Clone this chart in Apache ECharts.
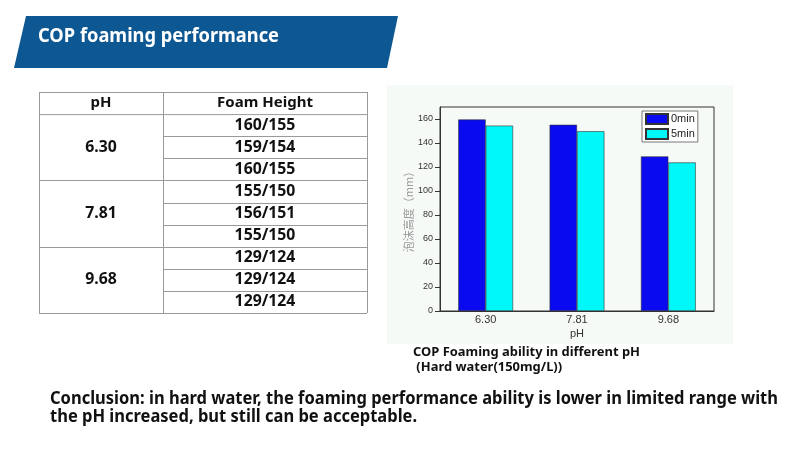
<!DOCTYPE html>
<html><head><meta charset="utf-8">
<script src="https://cdn.jsdelivr.net/npm/echarts@6/dist/echarts.min.js"></script>
<style>html,body{margin:0;padding:0;background:#fff}#c{width:800px;height:452px}</style>
</head><body><div id="c"></div>
<script>
// ---- data ----
const titleText = 'COP foaming performance';
const tableHeaders = ['pH', 'Foam Height'];
const phValues = ['6.30', '7.81', '9.68'];
const foamHeights = [
  ['160/155', '159/154', '160/155'],
  ['155/150', '156/151', '155/150'],
  ['129/124', '129/124', '129/124']
];
const categories = ['6.30', '7.81', '9.68'];
const seriesNames = ['0min', '5min'];
const height0min = [159.6, 155.2, 128.8];
const height5min = [154.5, 149.8, 123.8];
const yTicks = [0, 20, 40, 60, 80, 100, 120, 140, 160];
const yAxisName = '泡沫高度（mm）';
const xAxisName = 'pH';
const captionLines = ['COP Foaming ability in different pH', ' (Hard water(150mg/L))'];
const conclusionLines = [
  'Conclusion: in hard water, the foaming performance ability is lower in limited range with',
  'the pH increased, but still can be acceptable.'
];

// ---- helpers ----
const FONT = '"Noto Sans", "Open Sans", sans-serif';
const mctx = document.createElement('canvas').getContext('2d');
function measure(text, size, weight) {
  mctx.font = (weight || 'bold') + ' ' + size + 'px ' + FONT;
  return mctx.measureText(text).width;
}
function txt(text, x, y, size, opts) {
  opts = opts || {};
  return {
    type: 'text', x: x, y: y, scaleX: opts.scaleX || 1, z: 10,
    style: {
      text: text, x: 0, y: 0,
      font: (opts.weight || 'bold') + ' ' + size + 'px ' + FONT,
      fill: opts.fill || '#111',
      align: opts.align || 'left', verticalAlign: 'middle'
    }
  };
}
function line(x1, y1, x2, y2, color) {
  return { type: 'line', z: 5, shape: { x1: x1, y1: y1, x2: x2, y2: y2 },
    style: { stroke: color || '#9a9a9a', lineWidth: 1 } };
}

const graphics = [];
// chart panel background
graphics.push({ type: 'rect', z: -10, shape: { x: 387, y: 85, width: 346, height: 259 },
  style: { fill: '#f6faf7' } });
// title banner
graphics.push({ type: 'polygon', z: 1, shape: { points: [[26, 16], [398, 16], [387, 68], [14, 68]] },
  style: { fill: '#0d5892' } });
{
  const s = 19, w = measure(titleText, s);
  graphics.push(txt(titleText, 38, 37, s, { fill: '#ffffff', scaleX: 241 / w }));
}

// table
const colX = [39, 163, 367];
const tTop = 92, rowH = 22.1;
const nRows = 1 + foamHeights.reduce((a, g) => a + g.length, 0);
const tBottom = tTop + nRows * rowH;
colX.forEach(x => graphics.push(line(x + 0.5, tTop, x + 0.5, tBottom)));
graphics.push(line(colX[0], tTop + 0.5, colX[2], tTop + 0.5));
graphics.push(line(colX[0], tTop + rowH + 0.5, colX[2], tTop + rowH + 0.5));
graphics.push(txt(tableHeaders[0], (colX[0] + colX[1]) / 2, tTop + rowH / 2, 15, { align: 'center' }));
graphics.push(txt(tableHeaders[1], (colX[1] + colX[2]) / 2, tTop + rowH / 2, 15, { align: 'center' }));
let r = 1;
foamHeights.forEach((group, gi) => {
  const gTop = tTop + r * rowH;
  group.forEach((v, i) => {
    const yTop = tTop + (r + i) * rowH;
    graphics.push(txt(v, (colX[1] + colX[2]) / 2, yTop + rowH / 2, 15.8, { align: 'center' }));
    const yb = Math.round(yTop + rowH) + 0.5;
    if (i < group.length - 1) graphics.push(line(colX[1], yb, colX[2], yb));
    else graphics.push(line(colX[0], yb, colX[2], yb));
  });
  graphics.push(txt(phValues[gi], (colX[0] + colX[1]) / 2, gTop + group.length * rowH / 2, 15.8, { align: 'center' }));
  r += group.length;
});

// caption
{
  const s = 13, sc = 227 / measure(captionLines[0], s);
  graphics.push(txt(captionLines[0], 413, 352, s, { scaleX: sc }));
  graphics.push(txt(captionLines[1], 413, 367, s, { scaleX: sc }));
}
// conclusion
{
  const s = 18, sc = 728 / measure(conclusionLines[0], s);
  graphics.push(txt(conclusionLines[0], 50, 399, s, { scaleX: sc }));
  graphics.push(txt(conclusionLines[1], 50, 417, s, { scaleX: sc }));
}

const chart = echarts.init(document.getElementById('c'), null, { renderer: 'canvas' });
chart.setOption({
  animation: false,
  backgroundColor: '#ffffff',
  graphic: { elements: graphics },
  grid: { left: 440, top: 107, width: 274, height: 204, show: true,
    borderColor: '#333', borderWidth: 1, backgroundColor: 'transparent', containLabel: false },
  legend: {
    data: seriesNames, orient: 'vertical', left: 642, top: 111,
    backgroundColor: '#ffffff', borderColor: '#777', borderWidth: 1, borderRadius: 0,
    padding: [2, 3, 2, 3], itemWidth: 22, itemHeight: 10, itemGap: 3, icon: 'rect',
    textStyle: { fontSize: 11, color: '#222', fontFamily: 'Arial, "Liberation Sans", sans-serif', padding: [0, 0, 0, -2] }
  },
  xAxis: {
    type: 'category', data: categories,
    name: xAxisName, nameLocation: 'middle', nameGap: 17,
    nameTextStyle: { fontSize: 11, color: '#333', fontFamily: 'Arial, "Liberation Sans", sans-serif' },
    axisLine: { lineStyle: { color: '#333' } },
    axisTick: { show: false },
    axisLabel: { fontSize: 11, color: '#333', margin: 3, fontFamily: 'Arial, "Liberation Sans", sans-serif' }
  },
  yAxis: {
    type: 'value', min: 0, max: 170, interval: 20,
    name: yAxisName, nameLocation: 'middle', nameGap: 21, nameRotate: 90,
    nameTextStyle: { fontSize: 11, color: '#9a9a9a', fontFamily: '"Noto Sans CJK SC", sans-serif' },
    axisLine: { show: true, lineStyle: { color: '#333' } },
    axisTick: { show: true, inside: false, length: 5, customValues: yTicks, lineStyle: { color: '#333' } },
    axisLabel: { fontSize: 9, color: '#333', margin: 7, customValues: yTicks,
      fontFamily: 'Arial, "Liberation Sans", sans-serif' },
    splitLine: { show: false }
  },
  series: [
    { name: seriesNames[0], type: 'bar', data: height0min, barGap: '0%', barCategoryGap: '40%',
      itemStyle: { color: '#0a0af0', borderColor: '#333', borderWidth: 0.6 } },
    { name: seriesNames[1], type: 'bar', data: height5min, barGap: '0%', barCategoryGap: '40%',
      itemStyle: { color: '#00f8f8', borderColor: '#333', borderWidth: 0.6 } }
  ]
});
</script>
</body></html>
